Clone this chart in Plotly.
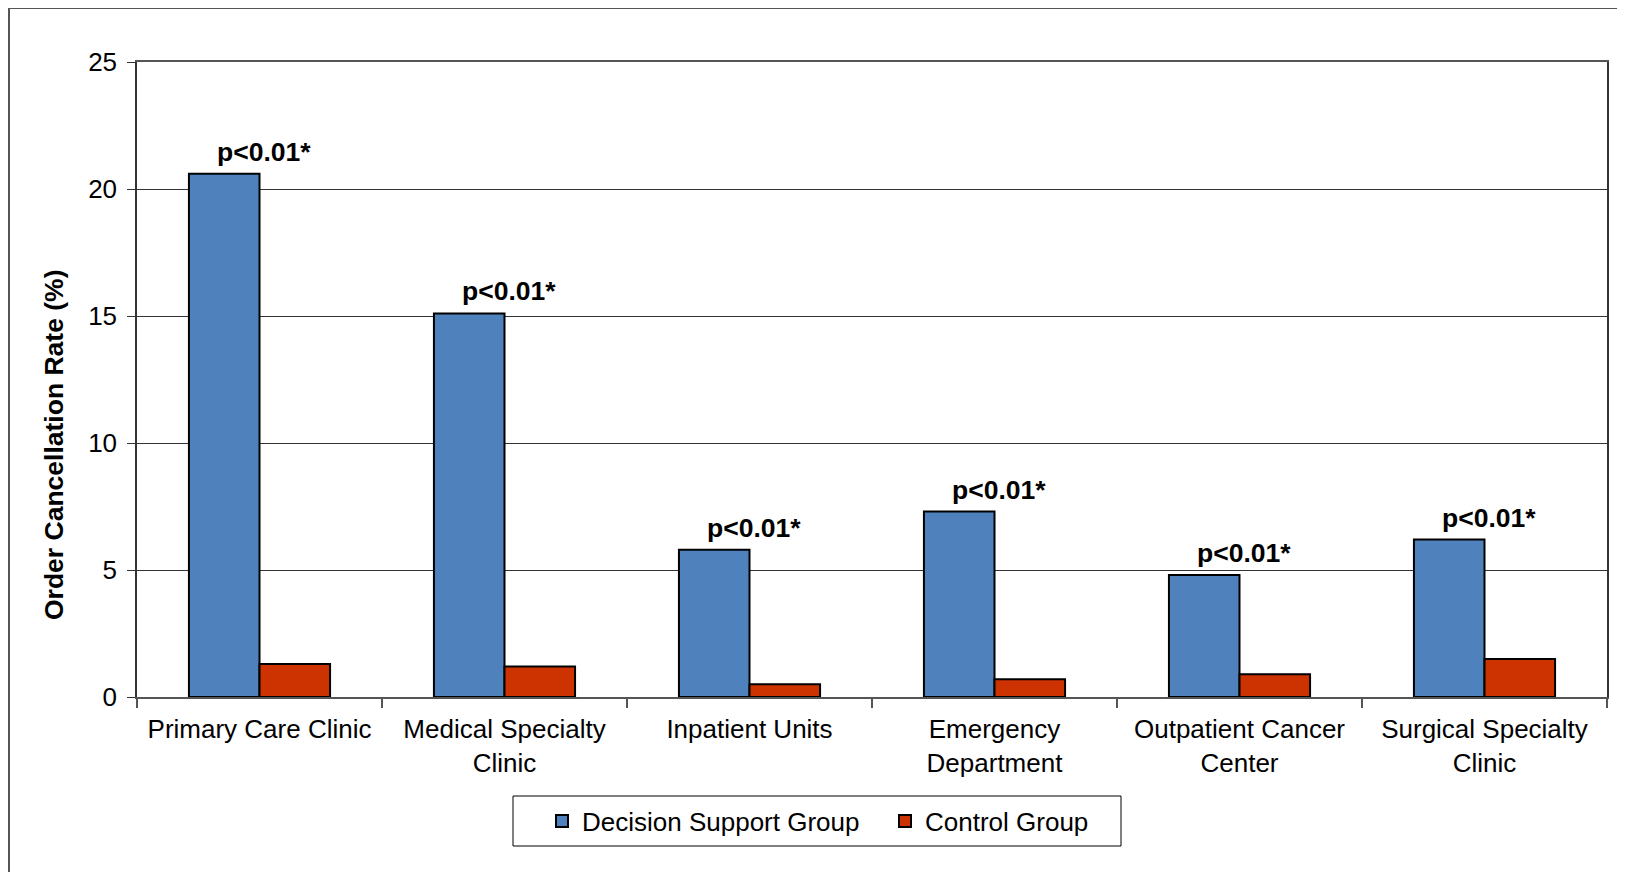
import plotly.graph_objects as go

categories = ["Primary Care Clinic", "Medical Specialty<br>Clinic", "Inpatient Units",
              "Emergency<br>Department", "Outpatient Cancer<br>Center", "Surgical Specialty<br>Clinic"]
decision_support = [20.6, 15.1, 5.8, 7.3, 4.8, 6.2]
control = [1.3, 1.2, 0.5, 0.7, 0.9, 1.5]
p_labels = ["p<0.01*"] * 6
y_ticks = [0, 5, 10, 15, 20, 25]

FONT = "Liberation Sans, Arial, sans-serif"
W, H = 1617, 864
L, R, T, B = 129, 18, 54, 175
pw, ph = W - L - R, H - T - B


def px(xp):
    return (xp - L) / pw


def py(yp):
    return (H - B - yp) / ph


fig = go.Figure()
fig.add_trace(go.Bar(name="Decision Support Group", x=categories, y=decision_support,
                     marker=dict(color="#4F81BD", line=dict(color="black", width=2))))
fig.add_trace(go.Bar(name="Control Group", x=categories, y=control,
                     marker=dict(color="#CC3300", line=dict(color="black", width=2))))

for c, v, t in zip(categories, decision_support, p_labels):
    fig.add_annotation(x=c, y=v, text="<b>%s</b>" % t, showarrow=False, xanchor="center",
                       yanchor="bottom", xshift=4, yshift=5,
                       font=dict(family=FONT, size=26.5, color="black"))

fig.add_annotation(xref="paper", yref="paper", x=px(46), y=py(437),
                   text="<b>Order Cancellation Rate (%)</b>", textangle=-90, showarrow=False,
                   xanchor="center", yanchor="middle",
                   font=dict(family=FONT, size=26.5, color="black"))

# outer frame (top and left edges)
fig.add_shape(type="line", xref="paper", yref="paper", x0=px(1), x1=px(W + 5),
              y0=py(0), y1=py(0), line=dict(color="#555555", width=2))
fig.add_shape(type="line", xref="paper", yref="paper", x0=px(1), x1=px(1),
              y0=py(0), y1=py(H + 5), line=dict(color="#555555", width=2))
# legend box
fig.add_shape(type="rect", xref="paper", yref="paper", x0=px(505), x1=px(1113),
              y0=py(788), y1=py(838), line=dict(color="black", width=1), fillcolor="rgba(0,0,0,0)")

fig.update_layout(
    width=W, height=H,
    margin=dict(l=L, r=R, t=T, b=B),
    paper_bgcolor="white", plot_bgcolor="white",
    barmode="group", bargap=0.424, bargroupgap=0,
    font=dict(family=FONT, size=26, color="black"),
    showlegend=True,
    legend=dict(orientation="h", x=px(534), xanchor="left",
                y=py(813), yanchor="middle",
                borderwidth=0, bgcolor="rgba(0,0,0,0)",
                font=dict(family=FONT, size=26, color="black"),
                itemwidth=30, traceorder="normal",
                entrywidth=298, entrywidthmode="pixels"),
    xaxis=dict(showline=True, linecolor="#555555", linewidth=2, mirror=True,
               ticks="outside", tickson="boundaries", ticklen=9, tickcolor="#555555",
               tickwidth=2, showgrid=False, ticklabelstandoff=8,
               tickfont=dict(family=FONT, size=26, color="black")),
    yaxis=dict(range=[0, 25], tickvals=y_ticks, showline=True, linecolor="#333333",
               linewidth=1.5, mirror=True, ticks="outside", ticklen=8, tickcolor="#333333",
               showgrid=True, gridcolor="#333333", gridwidth=1.2, zeroline=False,
               ticklabelstandoff=5, tickfont=dict(family=FONT, size=26, color="black")),
)

fig.write_html("out.html")
